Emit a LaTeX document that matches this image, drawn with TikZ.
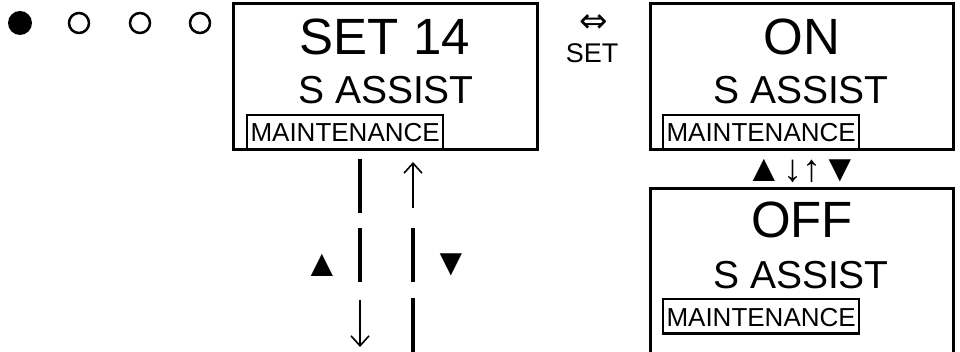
\documentclass[tikz,border=0pt]{standalone}
\usepackage{fontspec}
\setmainfont{Liberation Sans}
\newfontfamily\symfont{DejaVu Sans}
\usetikzlibrary{arrows.meta}
\begin{document}
\begin{tikzpicture}[x=1pt,y=-1pt,
  screen/.style={draw, line width=3pt, anchor=north west, inner sep=0pt, outer sep=0pt},
  bigtxt/.style={font=\fontsize{51}{51}\selectfont, anchor=base, inner sep=0pt},
  midtxt/.style={font=\fontsize{39}{39}\selectfont, anchor=base, inner sep=0pt},
  maint/.style={draw, line width=2.2pt, font=\fontsize{26}{26}\selectfont, anchor=base west,
    inner xsep=3.5pt, inner ysep=0pt, outer sep=0pt, text height=27pt, text depth=7.5pt},
  symtxt/.style={font=\fontsize{38}{38}\selectfont, inner sep=0pt},
  bar/.style={line width=3.3pt},
  thinarrow/.style={line width=1.6pt, -{Straight Barb[length=10pt,width=18pt,line width=1.6pt]}},
  dotfull/.style={circle, fill=black, minimum size=24pt, inner sep=0pt},
  dotopen/.style={circle, draw, line width=2.5pt, minimum size=20pt, inner sep=0pt}
]
\useasboundingbox (0,0) rectangle (960,352);

% indicator dots
\node[dotfull] (d1) at (20,23) {};
\node[dotopen] (d2) at (79,23) {};
\node[dotopen] (d3) at (140,23) {};
\node[dotopen] (d4) at (200,23) {};

% screen 1
\node[screen, minimum width=304pt, minimum height=146pt] (s1) at (233,4) {};
\node[bigtxt] (s1a) at (385,55) {SET 14};
\node[midtxt] (s1b) at (386,104) {S ASSIST};
\node[maint] (s1c) at (247,142) {MAINTENANCE};

% SET label
\node[inner sep=0pt, font=\symfont\fontsize{34}{34}\selectfont] (eq) at (594,24) {⇔};
\node[font=\fontsize{27}{27}\selectfont, anchor=base, inner sep=0pt] (setl) at (592,63) {SET};

% screen 2
\node[screen, minimum width=303pt, minimum height=146pt] (s2) at (650,4) {};
\node[bigtxt] (s2a) at (802,55) {ON};
\node[midtxt] (s2b) at (801,104) {S ASSIST};
\node[maint] (s2c) at (663,142) {MAINTENANCE};

% row of symbols
\node[symtxt] (row) at (802,171) {▲↓↑▼};

% screen 3 (cut off at the bottom)
\coordinate (s3bl) at (650,353);
\coordinate (s3tl) at (650,189);
\coordinate (s3tr) at (953,189);
\coordinate (s3br) at (953,353);
\draw[line width=3pt] (s3bl) -- (s3tl) -- (s3tr) -- (s3br);
\node[bigtxt] (s3a) at (802,238) {OFF};
\node[midtxt] (s3b) at (801,289) {S ASSIST};
\node[maint] (s3c) at (663,326) {MAINTENANCE};

% columns below screen 1
\coordinate (l1a) at (360,159); \coordinate (l1b) at (360,213);
\coordinate (l2a) at (360,228); \coordinate (l2b) at (360,282);
\coordinate (l3a) at (360,300); \coordinate (l3b) at (360,347);
\coordinate (r1a) at (413,208); \coordinate (r1b) at (413,162);
\coordinate (r2a) at (413,228); \coordinate (r2b) at (413,282);
\coordinate (r3a) at (413,298); \coordinate (r3b) at (413,352);
\draw[bar] (l1a) -- (l1b);
\draw[bar] (l2a) -- (l2b);
\draw[thinarrow] (l3a) -- (l3b);
\draw[thinarrow] (r1a) -- (r1b);
\draw[bar] (r2a) -- (r2b);
\draw[bar] (r3a) -- (r3b);
\node[symtxt] (up) at (322,265) {▲};
\node[symtxt] (dn) at (451,265) {▼};
\end{tikzpicture}
\end{document}
